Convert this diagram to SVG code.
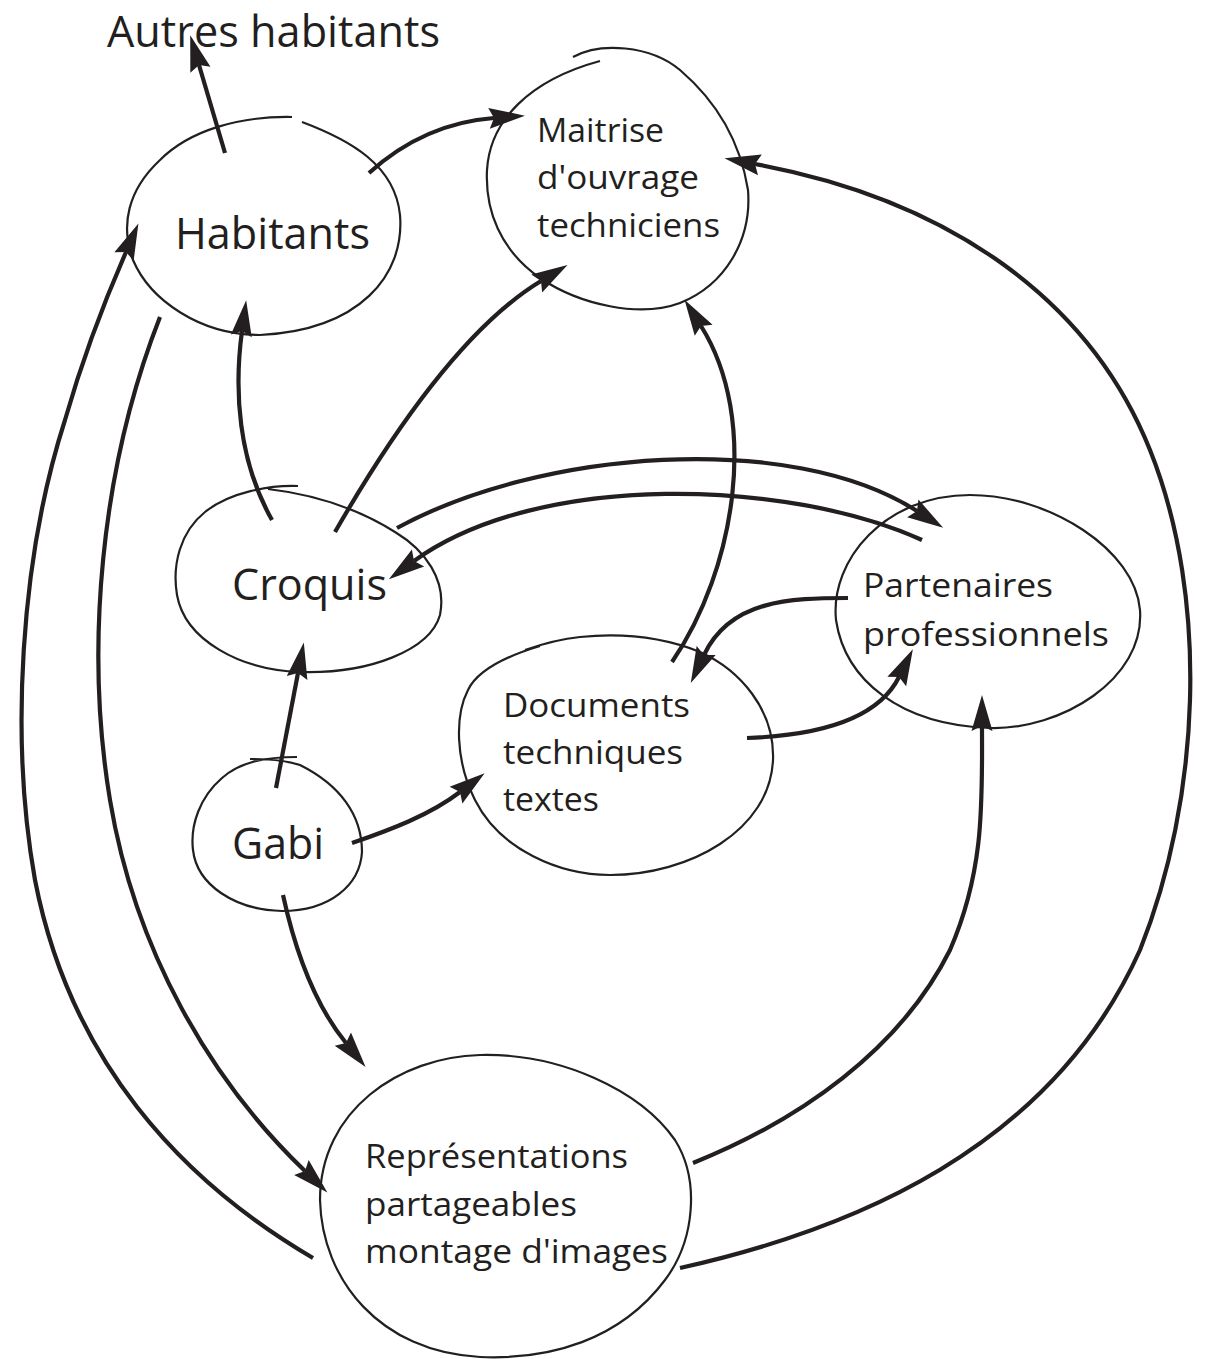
<svg xmlns="http://www.w3.org/2000/svg" width="1205" height="1359" viewBox="0 0 1205 1359">
<style>
.node{fill:none;stroke:#231f20;stroke-width:2.2;stroke-linecap:butt}
.edge{fill:none;stroke:#231f20;stroke-width:4.2}
.lbl{font-family:"Open Sans","Noto Sans","Liberation Sans",sans-serif;fill:#231f20}
.big{font-size:44px}
.small{font-size:33px}
</style>
<defs>
<marker id="ah" markerUnits="userSpaceOnUse" markerWidth="40" markerHeight="24" viewBox="0 -12 40 24" refX="5" refY="0" orient="auto" overflow="visible">
<path d="M0,-10.5 L36,0 L0,10.5 L5,0 Z" fill="#231f20"/>
</marker>
</defs>
<rect width="1205" height="1359" fill="#ffffff"/>
<g id="autres">
<text class="lbl big" x="107" y="47" textLength="333" lengthAdjust="spacingAndGlyphs">Autres habitants</text>
</g>
<g id="habitants">
<path class="node" d="M292,117 C240,116 190,130 160,160 C128,190 120,225 133,260 C150,300 200,335 260,335 C360,330 405,275 400,215 C395,165 350,140 302,122"/>
<text class="lbl big" x="175" y="249" textLength="195" lengthAdjust="spacingAndGlyphs">Habitants</text>
</g>
<g id="maitrise">
<path class="node" d="M573,57 C600,42 650,45 680,70 C715,100 740,140 748,190 C752,240 725,285 680,303 C640,318 580,305 540,278 C500,250 485,210 487,170 C490,120 530,80 600,61"/>
<text class="lbl small" x="537" y="142" textLength="127" lengthAdjust="spacingAndGlyphs">Maitrise</text>
<text class="lbl small" x="537" y="189" textLength="162" lengthAdjust="spacingAndGlyphs">d'ouvrage</text>
<text class="lbl small" x="537" y="237" textLength="183" lengthAdjust="spacingAndGlyphs">techniciens</text>
</g>
<g id="croquis">
<path class="node" d="M298,486 C270,485 230,492 205,512 C180,532 172,565 177,595 C185,640 240,670 300,672 C370,674 430,650 440,615 C447,580 425,550 395,532 C360,510 320,495 268,489"/>
<text class="lbl big" x="232" y="600" textLength="155" lengthAdjust="spacingAndGlyphs">Croquis</text>
</g>
<g id="gabi">
<path class="node" d="M297,757 C265,757 240,762 222,778 C200,797 190,825 193,850 C197,885 235,910 282,911 C330,911 360,885 362,852 C362,815 340,785 300,765 C285,760 270,759 250,759"/>
<text class="lbl big" x="232" y="859" textLength="92" lengthAdjust="spacingAndGlyphs">Gabi</text>
</g>
<g id="documents">
<path class="node" d="M540,646 C520,652 480,665 468,690 C455,715 455,760 475,800 C500,850 560,875 610,875 C690,875 770,830 773,760 C775,710 740,670 700,652 C660,636 620,633 580,637 C560,639 545,643 525,650"/>
<text class="lbl small" x="503" y="717" textLength="187" lengthAdjust="spacingAndGlyphs">Documents</text>
<text class="lbl small" x="503" y="764" textLength="180" lengthAdjust="spacingAndGlyphs">techniques</text>
<text class="lbl small" x="503" y="811" textLength="96" lengthAdjust="spacingAndGlyphs">textes</text>
</g>
<g id="partenaires">
<path class="node" d="M970,495 C1050,495 1135,550 1140,610 C1145,680 1060,730 990,728 C900,725 845,680 836,620 C830,560 885,495 970,495 Z"/>
<text class="lbl small" x="863" y="597" textLength="190" lengthAdjust="spacingAndGlyphs">Partenaires</text>
<text class="lbl small" x="863" y="646" textLength="246" lengthAdjust="spacingAndGlyphs">professionnels</text>
</g>
<g id="representations">
<path class="node" d="M480,1055 C560,1053 640,1090 675,1140 C700,1180 695,1240 665,1280 C620,1340 550,1360 480,1357 C380,1352 322,1280 320,1200 C320,1110 400,1057 480,1055 Z"/>
<text class="lbl small" x="365" y="1168" textLength="263" lengthAdjust="spacingAndGlyphs">Représentations</text>
<text class="lbl small" x="365" y="1216" textLength="212" lengthAdjust="spacingAndGlyphs">partageables</text>
<text class="lbl small" x="365" y="1263" textLength="303" lengthAdjust="spacingAndGlyphs">montage d'images</text>
</g>
<g id="connectors" marker-end="url(#ah)">
<path class="edge" marker-end="url(#ah)" d="M225,153 L199,65"/>
<path class="edge" marker-end="url(#ah)" d="M369,173 C400,145 440,122 494,118"/>
<path class="edge" marker-end="url(#ah)" d="M272,520 C238,460 234,390 242,331"/>
<path class="edge" marker-end="url(#ah)" d="M335,532 C385,445 460,330 541,281"/>
<path class="edge" marker-end="url(#ah)" d="M397,528 C540,450 790,430 917,511"/>
<path class="edge" marker-end="url(#ah)" d="M922,540 C790,480 540,470 414,561"/>
<path class="edge" marker-end="url(#ah)" d="M672,662 C735,570 760,420 701,326"/>
<path class="edge" marker-end="url(#ah)" d="M848,598 C790,598 730,600 704,655"/>
<path class="edge" marker-end="url(#ah)" d="M747,738 C830,735 880,715 899,677"/>
<path class="edge" marker-end="url(#ah)" d="M276,788 L298,673"/>
<path class="edge" marker-end="url(#ah)" d="M352,843 C390,830 430,815 460,792"/>
<path class="edge" marker-end="url(#ah)" d="M283,895 C295,950 315,1005 346,1043"/>
<path class="edge" marker-end="url(#ah)" d="M160,317 C100,470 85,650 110,800 C135,950 210,1080 305,1171"/>
<path class="edge" marker-end="url(#ah)" d="M313,1258 C180,1180 70,1060 35,880 C10,740 20,560 65,420 C85,350 105,300 126,252"/>
<path class="edge" marker-end="url(#ah)" d="M693,1163 C800,1120 900,1050 950,950 C985,870 982,800 982,726"/>
<path class="edge" marker-end="url(#ah)" d="M680,1268 C850,1230 1050,1150 1140,950 C1200,800 1210,600 1150,450 C1090,300 950,200 755,164"/>
</g>
</svg>
